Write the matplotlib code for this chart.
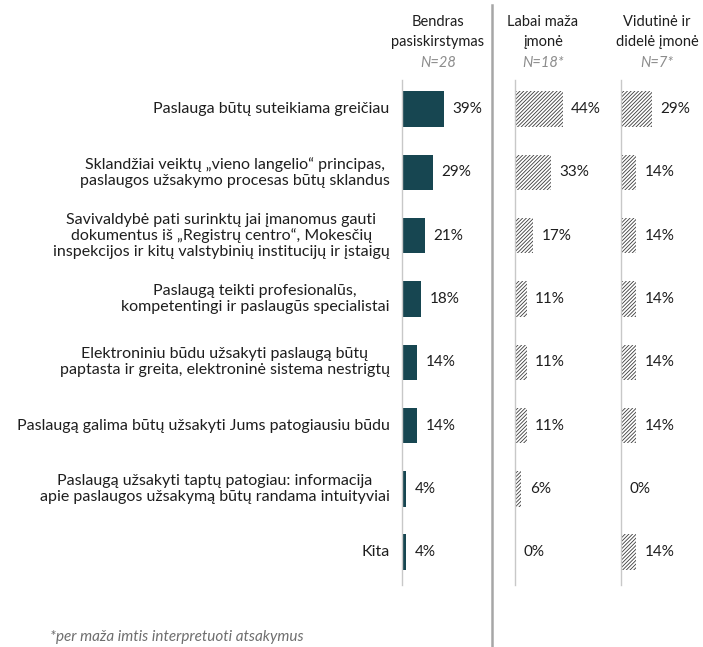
import matplotlib.pyplot as plt
from matplotlib.lines import Line2D

plt.rcParams['font.family'] = ['Lato', 'DejaVu Sans']
plt.rcParams['hatch.linewidth'] = 0.6

categories = [
    "Paslauga būtų suteikiama greičiau",
    "Sklandžiai veiktų „vieno langelio“ principas,\npaslaugos užsakymo procesas būtų sklandus",
    "Savivaldybė pati surinktų jai įmanomus gauti\ndokumentus iš „Registrų centro“, Mokesčių\ninspekcijos ir kitų valstybinių institucijų ir įstaigų",
    "Paslaugą teikti profesionalūs,\nkompetentingi ir paslaugūs specialistai",
    "Elektroniniu būdu užsakyti paslaugą būtų\npaptasta ir greita, elektroninė sistema nestrigtų",
    "Paslaugą galima būtų užsakyti Jums patogiausiu būdu",
    "Paslaugą užsakyti taptų patogiau: informacija\napie paslaugos užsakymą būtų randama intuityviai",
    "Kita",
]
overall = [39, 29, 21, 18, 14, 14, 4, 4]
micro = [44, 33, 17, 11, 11, 11, 6, 0]
medium = [29, 14, 14, 14, 14, 14, 0, 14]

headers = ["Bendras\npasiskirstymas", "Labai maža\nįmonė", "Vidutinė ir\ndidelė įmonė"]
n_labels = ["N=28", "N=18*", "N=7*"]

W, H = 703, 647
fig = plt.figure(figsize=(W / 100, H / 100), dpi=100)

top_px, bot_px = 80, 585
px_per_pct = 1.08
hatched = dict(color='white', hatch='/////////', edgecolor='#3a3a3a', linewidth=0)
panels = [
    (402, 88, overall, dict(color='#174651')),
    (515, 100, micro, hatched),
    (621, 80, medium, hatched),
]
header_x = [438, 543, 657]

text_col = '#1e1e1e'
ys = list(range(len(categories)))

axes = []
for (left, width, vals, style) in panels:
    ax = fig.add_axes([left / W, (H - bot_px) / H, width / W, (bot_px - top_px) / H])
    ax.barh(ys, vals, height=0.56, **style)
    ax.set_xlim(0, width / px_per_pct)
    ax.set_ylim(7.52, -0.46)
    for s in ['top', 'right', 'bottom']:
        ax.spines[s].set_visible(False)
    ax.spines['left'].set_color('#C8C8C8')
    ax.spines['left'].set_linewidth(1)
    ax.set_xticks([])
    ax.set_yticks([])
    ax.patch.set_alpha(0)
    for y, v in zip(ys, vals):
        ax.annotate(f"{v}%", xy=(v, y), xytext=(6, 0), textcoords='offset points',
                    ha='left', va='center', fontsize=11, color=text_col)
    axes.append(ax)

for y, c in zip(ys, categories):
    axes[0].annotate(c, xy=(0, y), xytext=(-9, 0), textcoords='offset points',
                     ha='right', va='center', multialignment='center',
                     fontsize=11.5, color=text_col, linespacing=1.15)

for hx, h, n in zip(header_x, headers, n_labels):
    fig.text(hx / W, 1 - 32 / H, h, ha='center', va='center', fontsize=10.5,
             color=text_col, linespacing=1.5)
    fig.text(hx / W, 1 - 63 / H, n, ha='center', va='center', fontsize=10.5,
             color='#8C8C8C', style='italic')

fig.add_artist(Line2D([492 / W, 492 / W], [0, 1 - 5 / H], color='#A6A6A6', linewidth=1.8))

fig.text(50 / W, 1 - 637 / H, "*per maža imtis interpretuoti atsakymus", ha='left',
         va='center', fontsize=11, color='#6E6E6E', style='italic')

fig.savefig('out.png', dpi=100)
